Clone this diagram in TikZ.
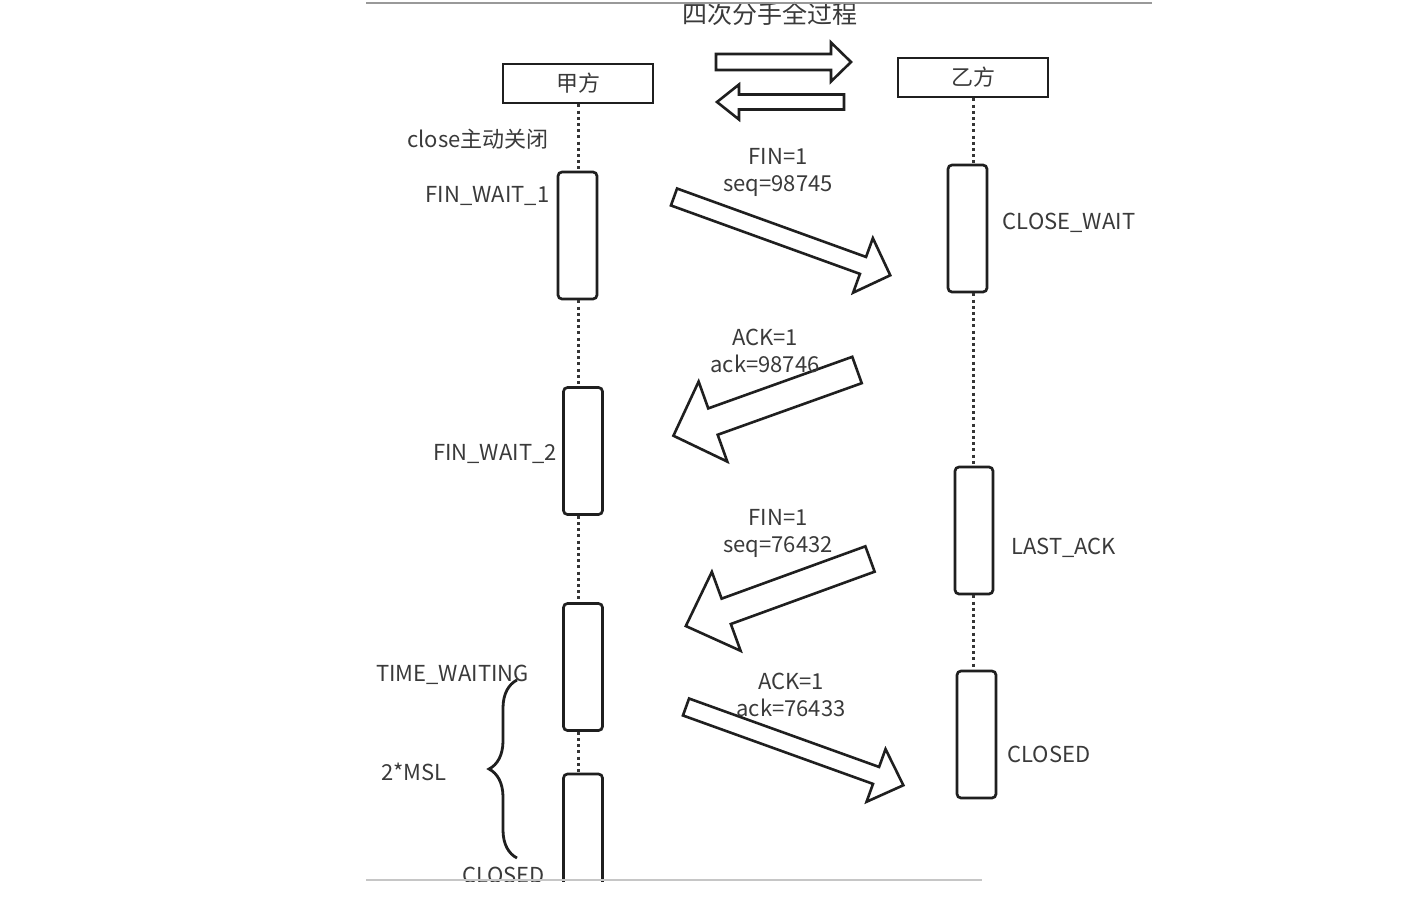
\documentclass[tikz,border=0pt]{standalone}
\usepackage{fontspec}
\setmainfont{Noto Sans CJK SC}
\usetikzlibrary{decorations.pathreplacing}
\definecolor{txt}{HTML}{3a3a3a}
\definecolor{ln}{HTML}{1f1f1f}
\tikzset{
  actor/.style={draw=ln, line width=2.9pt, minimum width=150pt, minimum height=39pt, inner sep=0pt, text=txt, font=\fontsize{22}{26}\selectfont},
  act/.style={draw=ln, line width=2.7pt, rounded corners=4pt, minimum width=39pt, minimum height=127pt, inner sep=0pt, fill=white},
  life/.style={draw=ln!90, line width=3pt, dash pattern=on 3pt off 3.2pt},
  lbl/.style={text=txt, inner sep=0pt, font=\fontsize{22}{27}\selectfont},
  msg/.style={lbl, align=center},
  blockarr/.style={draw=ln, line width=2.6pt, fill=white, line join=miter},
  bracestyle/.style={draw=ln, line width=2.8pt, decorate, decoration={brace, amplitude=28pt}},
}
% #1,#2 tail middle; #3 screen angle (clockwise); #4 length; #5 half shaft; #6 half head; #7 head length
\newcommand\blockarrow[7]{%
  \draw[blockarr, shift={(#1,#2)}, rotate=-#3]
    (0,-#5) -- ({#4-#7},-#5) -- ({#4-#7},-#6) -- (#4,0) -- ({#4-#7},#6) -- ({#4-#7},#5) -- (0,#5) -- cycle;}
\begin{document}
\begin{tikzpicture}[x=1pt, y=-1pt]
\useasboundingbox[fill=white] (0,0) rectangle (1428,900);

% title
\node[lbl, font=\fontsize{25}{28}\selectfont] (title) at (770,14) {四次分手全过程};
\draw[draw=gray!80, line width=1.6pt] (366,3) coordinate (tl) -- (1152,3) coordinate (tr);

% actors
\node[actor] (A) at (578,83.5) {甲方};
\node[actor] (B) at (973,77.5) {乙方};

% top block arrows
\blockarrow{716}{62}{0}{135}{8}{19.5}{20}
\blockarrow{844}{102}{180}{127}{7.5}{17.5}{22}

% activation boxes
\node[act] (a1) at (577.5,235.5) {};
\node[act] (a2) at (583,451) {};
\node[act] (a3) at (583,667) {};
\node[act, minimum height=220pt] (a4) at (583,884) {};
\node[act] (b1) at (967.5,228.5) {};
\node[act, minimum width=38pt] (b2) at (974,530.5) {};
\node[act] (b3) at (976.5,734.5) {};

% lifelines
\draw[life] (A.south) -- (A.south |- a1.north);
\draw[life] (a1.south -| A) -- (a2.north -| A);
\draw[life] (a2.south -| A) -- (a3.north -| A);
\draw[life] (a3.south -| A) -- (a4.north -| A);
\draw[life] (B.south) -- (B.south |- b1.north);
\draw[life] (b1.south -| B) -- (b2.north -| B);
\draw[life] (b2.south -| B) -- (b3.north -| B);

% left labels
\node[lbl] (l0) at (478,139) {close主动关闭};
\node[lbl] (l1) at (487.5,196) {FIN\_WAIT\_1};
\node[lbl] (l2) at (495,454) {FIN\_WAIT\_2};
\node[lbl] (l3) at (452.5,675) {TIME\_WAITING};
\node[lbl] (l4) at (414,772) {2*MSL};
\node[lbl] (l5) at (503.5,875) {CLOSED};

% right labels
\node[lbl] (r1) at (1069,223) {CLOSE\_WAIT};
\node[lbl] (r2) at (1063.5,548) {LAST\_ACK};
\node[lbl] (r3) at (1049,754) {CLOSED};

% message block arrows
\blockarrow{674}{197}{19.9}{230}{9}{29}{29}
\blockarrow{857}{370}{160.3}{195}{14}{42.5}{42}
\blockarrow{870}{559}{160}{196}{13.5}{42}{43}
\blockarrow{686}{707}{19.8}{231}{9}{28}{29}

% message labels
\node[msg] (m1) at (778,172) {FIN=1\\seq=98745};
\node[msg] (m2) at (765,351) {ACK=1\\ack=98746};
\node[msg] (m3) at (778,533) {FIN=1\\seq=76432};
\node[msg] (m4) at (791,695) {ACK=1\\ack=76433};

% brace
\draw[bracestyle] (517,858) -- (517,680);

% cut-off at bottom
\fill[white] (360,881.5) rectangle (1000,900);
\draw[draw=gray!45, line width=1.4pt] (366,880) coordinate (bl) -- (982,880) coordinate (br);
\end{tikzpicture}
\end{document}
